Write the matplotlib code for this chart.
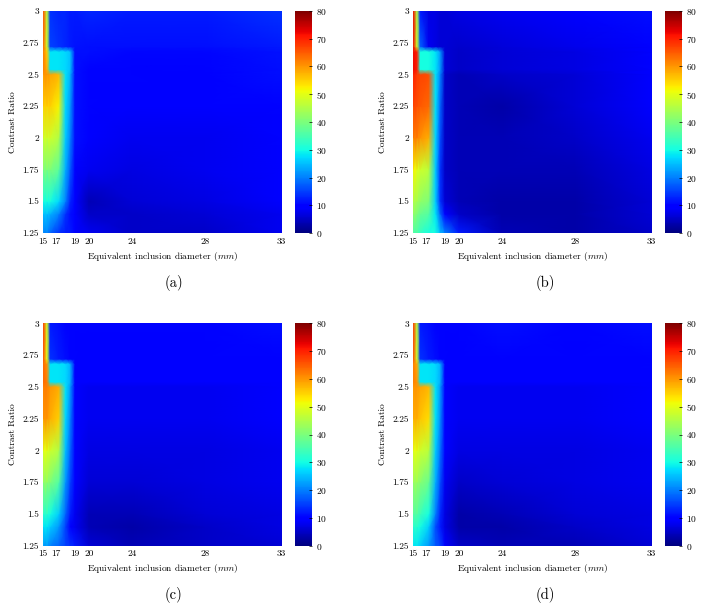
"""
Reconstruction error maps: contrast ratio vs equivalent inclusion diameter,
four reconstruction settings (a)-(d), jet colour scale 0-80.
"""
import numpy as np
import matplotlib
matplotlib.use("Agg")
import matplotlib.pyplot as plt

plt.rcParams['font.family'] = 'serif'
plt.rcParams['font.serif'] = ['cmr10', 'DejaVu Serif']
plt.rcParams['mathtext.fontset'] = 'cm'
plt.rcParams['axes.formatter.use_mathtext'] = True

# grid nodes (diameter in mm, contrast ratio)
DIAMETER = [15, 15.6, 16.1, 17.3, 18.0, 18.5, 19.0, 20, 24, 28, 33]
CONTRAST = [1.25, 1.4, 1.5, 1.75, 2.0, 2.25, 2.5, 2.54, 2.68, 2.72, 3.0]

X_TICKS = [15, 17, 19, 20, 24, 28, 33]
X_TICK_LABELS = ["15", "17", "19", "20", "24", "28", "33"]
Y_TICKS = [1.25, 1.5, 1.75, 2.0, 2.25, 2.5, 2.75, 3.0]
Y_TICK_LABELS = ["1.25", "1.5", "1.75", "2", "2.25", "2.5", "2.75", "3"]
CBAR_TICKS = [0, 10, 20, 30, 40, 50, 60, 70, 80]
CAPTIONS = ["(a)", "(b)", "(c)", "(d)"]

# one list per diameter node, values listed bottom (1.25) -> top (3.0)
err_a = [
    [20, 25, 30, 40, 48, 55, 60, 62, 62, 64, 66],
    [20, 25, 30, 40, 48, 55, 60, 58, 55, 48, 46],
    [18, 24, 30, 40, 48, 55, 59, 28, 28, 15, 14],
    [14, 20, 27, 37, 45, 52, 57, 28, 28, 14, 13],
    [12, 14, 20, 24, 26, 27, 28, 27, 27, 13, 13],
    [12, 11, 13, 17, 20, 22, 24, 25, 25, 12, 12],
    [10, 9, 9, 10, 11, 11, 11, 11, 11, 11.5, 12],
    [8, 5, 4, 8, 9, 10, 10, 10, 11, 11, 13],
    [5, 5, 6, 7, 8, 9, 10, 10, 10.5, 11, 12],
    [5, 6, 7, 8, 8, 9, 9, 10, 10.5, 11, 12],
    [8, 8, 9, 9, 10, 10, 11, 11, 11.5, 12, 14],
]
err_b = [
    [35, 42, 45, 52, 62, 67, 70, 72, 72, 72, 72],
    [35, 40, 44, 50, 62, 66, 68, 70, 70, 48, 45],
    [33, 38, 42, 48, 60, 65, 67, 30, 30, 18, 12],
    [30, 36, 40, 46, 58, 64, 66, 30, 30, 8, 7],
    [30, 28, 26, 26, 27, 28, 28, 28, 28, 7, 7],
    [25, 18, 14, 14, 16, 18, 20, 22, 22, 6, 6],
    [20, 10, 6, 5, 5, 5, 5, 6, 6, 6, 6],
    [12, 5, 4, 4, 4, 4, 4, 5, 5, 5.5, 7],
    [4, 3, 3, 4, 4, 3, 5, 6, 6, 6.5, 8],
    [3, 3, 3, 4, 5, 6, 6, 7, 7, 7.5, 9],
    [5, 6, 6, 7, 8, 9, 9, 10, 10, 10, 11],
]
err_c = [
    [22, 28, 32, 42, 50, 60, 62, 64, 64, 66, 68],
    [22, 28, 32, 42, 50, 60, 62, 62, 60, 50, 48],
    [20, 26, 30, 40, 48, 58, 60, 28, 28, 14, 12],
    [18, 22, 26, 36, 45, 55, 58, 28, 28, 12, 11],
    [15, 15, 18, 22, 25, 27, 28, 27, 27, 11, 10],
    [14, 10, 12, 15, 18, 20, 22, 24, 24, 10, 10],
    [12, 8, 8, 9, 9, 9, 9, 10, 10, 10, 10],
    [6, 4, 4, 6, 7, 8, 8, 9, 9, 9, 10],
    [4, 3, 4, 6, 7, 8, 8, 9, 9, 9, 10],
    [5, 5, 6, 7, 7, 8, 8, 9, 9, 9.5, 10],
    [6, 7, 7, 8, 8, 9, 9, 9, 9, 9.5, 11],
]
err_d = [
    [28, 32, 36, 43, 50, 58, 60, 62, 62, 66, 68],
    [28, 32, 36, 43, 50, 58, 60, 60, 58, 48, 45],
    [26, 30, 34, 41, 48, 56, 59, 28, 28, 14, 12],
    [22, 26, 30, 38, 46, 54, 57, 28, 28, 12, 11],
    [17, 16, 20, 24, 26, 28, 28, 27, 27, 11, 10],
    [15, 12, 13, 16, 19, 21, 22, 24, 24, 10, 10],
    [10, 7, 7, 8, 9, 9, 9, 10, 10, 10, 10],
    [5, 3, 3, 5, 7, 8, 8, 9, 9, 9.5, 10],
    [4, 3, 4, 6, 7, 8, 8, 9, 9.5, 10, 11],
    [4, 5, 6, 7, 7, 8, 8, 9, 9, 9.5, 10],
    [6, 7, 7, 8, 8, 9, 9, 9, 10, 10, 11],
]
PANELS = [err_a, err_b, err_c, err_d]

# the diameter axis is not linear: tick positions as fraction of axis width
TICK_FRAC = [0.0, 0.053, 0.133, 0.192, 0.371, 0.677, 1.0]

def fwd(x):
    return np.interp(x, X_TICKS, TICK_FRAC)

def inv(f):
    return np.interp(f, TICK_FRAC, X_TICKS)

W, H = 701, 609

def rect(l, t, r, b):
    return [l / W, 1 - b / H, (r - l) / W, (b - t) / H]

fig = plt.figure(figsize=(W / 100, H / 100), dpi=100)

# pixel boxes: (axes left, axes right, cbar left, cbar right, top, bottom, caption x, caption y)
boxes = [
    (43.3, 281.7, 295, 312, 11, 233, 174, 283),
    (413.3, 651.7, 665, 682, 11, 233, 545, 283),
    (43.3, 281.7, 295, 312, 323.3, 545.7, 174, 595),
    (413.3, 651.7, 665, 682, 323.3, 545.7, 545, 595),
]

XX, YY = np.meshgrid(DIAMETER, CONTRAST)
fs = 6.8

for err, cap, (al, ar, cl, cr, t, b, tx, ty) in zip(PANELS, CAPTIONS, boxes):
    Z = np.array(err, dtype=float).T
    ax = fig.add_axes(rect(al, t, ar, b))
    ax.set_xscale('function', functions=(fwd, inv))
    mesh = ax.pcolormesh(XX, YY, Z, cmap='jet', vmin=0, vmax=80,
                         shading='gouraud', rasterized=True)
    ax.set_xlim(15, 33)
    ax.set_ylim(1.25, 3.0)
    ax.set_xticks(X_TICKS)
    ax.set_xticklabels(X_TICK_LABELS)
    ax.set_yticks(Y_TICKS)
    ax.set_yticklabels(Y_TICK_LABELS)
    ax.minorticks_off()
    ax.tick_params(length=0, labelsize=fs, pad=3)
    for s in ax.spines.values():
        s.set_visible(False)
    ax.set_xlabel('Equivalent inclusion diameter ($mm$)', fontsize=fs, labelpad=3)
    ax.set_ylabel('Contrast Ratio', fontsize=fs, labelpad=4)

    cax = fig.add_axes(rect(cl, t, cr, b))
    cb = fig.colorbar(mesh, cax=cax, ticks=CBAR_TICKS)
    cb.outline.set_visible(False)
    cax.tick_params(direction='in', length=2, width=0.5, labelsize=fs, pad=3)

    fig.text(tx / W, 1 - ty / H, cap, ha='center', va='center', fontsize=10.5)

fig.savefig('out.png', dpi=100)
